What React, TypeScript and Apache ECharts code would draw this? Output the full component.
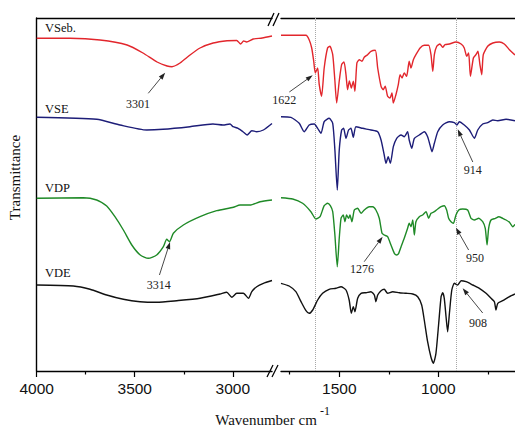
import React, { useEffect, useRef } from "react";
import * as echarts from "echarts";

type P = [number, number];

// axis ranges (wavenumber, cm-1) for the two segments of the broken axis
const leftRange: P = [2800, 4000];
const rightRange: P = [613, 1794];
const majorLeft = [4000, 3500, 3000];
const minorLeft = [3750, 3250];
const majorRight = [1500, 1000];
const minorRight = [1750, 1250, 750];
const guideLines = [1622, 908];
const yRange: P = [0, 353];

const seriesNames = ["VSeb.", "VSE", "VDP", "VDE"];
const seriesColors = ["#e2262c", "#1d1d78", "#1f8a27", "#111111"];

// transmittance (arbitrary, offset units)
const vsebLeft: P[] = [[4000, 332.7], [3830, 332.7], [3677, 331], [3539, 326], [3458, 318], [3386, 309], [3335, 305], [3310, 304.3], [3269, 308], [3218, 316], [3167, 323], [3100, 328], [3029, 330.3], [2980, 330.5], [2960, 327], [2945, 330], [2930, 329], [2896, 332], [2850, 333], [2800, 335]];
const vsebRight: P[] = [[1794, 335.7], [1668, 335.7], [1652, 331.3], [1639, 323], [1629, 310], [1621, 298], [1609, 303], [1601, 286.3], [1589, 274.7], [1576, 303], [1559, 323], [1547, 324.7], [1533, 316.3], [1523, 293], [1513, 268], [1500, 290], [1488, 306.3], [1476, 309], [1466, 296.3], [1458, 281.3], [1449, 290], [1439, 283], [1429, 289.7], [1421, 279.7], [1411, 308], [1399, 311.3], [1385, 309.7], [1374, 313.7], [1357, 316.3], [1340, 319.7], [1318, 320.7], [1306, 303], [1289, 284.7], [1278, 281.3], [1268, 284.7], [1256, 274.7], [1244, 273], [1234, 278], [1227, 268], [1214, 276.3], [1202, 286.3], [1193, 296.3], [1183, 293], [1172, 298], [1160, 294.7], [1147, 309.7], [1138, 303], [1126, 311.3], [1113, 316.3], [1092, 323], [1071, 325.7], [1049, 325.7], [1037, 316.3], [1028, 299.7], [1020, 316.3], [1008, 324.7], [992, 327], [978, 323.7], [966, 326.3], [944, 327], [911, 329], [885, 327], [869, 323], [857, 314.7], [847, 318], [838, 294.7], [823, 313], [810, 316.3], [800, 319.7], [790, 306.3], [781, 296.3], [773, 316.3], [751, 324.7], [725, 328], [692, 329], [667, 327], [641, 321.3], [624, 318], [613, 316]];

const vseLeft: P[] = [[4000, 253.7], [3694, 251.7], [3575, 246], [3439, 241], [3356, 241.7], [3218, 244.3], [3101, 247], [3050, 246], [3014, 247], [2999, 244.3], [2973, 242.7], [2948, 239.3], [2927, 236], [2903, 240.3], [2878, 239.3], [2844, 241], [2800, 247.5]];
const vseRight: P[] = [[1794, 254.3], [1744, 253.7], [1702, 247.7], [1677, 239.3], [1652, 246], [1626, 247], [1609, 242.7], [1592, 237.7], [1576, 249.3], [1551, 252.7], [1533, 247.7], [1522, 221], [1510, 181], [1500, 221], [1488, 241], [1478, 242.7], [1466, 232.7], [1453, 241], [1441, 242.7], [1429, 233.7], [1416, 244.3], [1382, 242.7], [1340, 241], [1306, 239.3], [1289, 231], [1273, 216], [1264, 207.7], [1253, 214.3], [1242, 207.7], [1227, 224.3], [1210, 232.7], [1188, 236], [1172, 234.3], [1155, 239.3], [1147, 231], [1134, 222.7], [1121, 232.7], [1096, 236], [1071, 239.3], [1054, 234.3], [1042, 226], [1032, 219.3], [1020, 227.7], [1003, 239.3], [978, 246], [944, 249.3], [919, 248.3], [906, 246], [894, 249.3], [869, 246], [843, 241], [818, 232.7], [801, 241], [776, 247], [751, 248.3], [725, 251], [700, 250.3], [658, 251.7], [613, 250.3]];

const vdpLeft: P[] = [[4000, 172.7], [3762, 173.3], [3694, 171], [3643, 165], [3601, 154.3], [3558, 141], [3515, 126], [3472, 116], [3431, 112.7], [3388, 116], [3354, 124.3], [3337, 131.7], [3323, 129.3], [3303, 137.7], [3252, 146], [3167, 154.3], [3082, 160.3], [2997, 163.7], [2963, 166], [2912, 166], [2861, 169.3], [2800, 171]];
const vdpRight: P[] = [[1794, 173.3], [1735, 172], [1685, 167.7], [1643, 159.3], [1618, 152], [1597, 154.3], [1576, 165.3], [1559, 167.7], [1545, 165.3], [1533, 159.3], [1522, 136], [1510, 104.3], [1500, 132.7], [1491, 152.7], [1480, 156], [1471, 149.3], [1463, 156], [1453, 152.7], [1446, 156], [1436, 149.3], [1424, 161], [1407, 162.7], [1390, 157.7], [1374, 161], [1349, 164.3], [1331, 164.3], [1315, 161], [1298, 152.7], [1284, 137.7], [1273, 136], [1256, 134.3], [1239, 126], [1222, 117.7], [1210, 116], [1200, 117.7], [1188, 124.3], [1172, 132.7], [1155, 142.7], [1147, 147.7], [1138, 144.3], [1129, 151], [1121, 136], [1113, 149.3], [1096, 154.3], [1079, 156], [1062, 159.3], [1049, 152.7], [1037, 157.7], [1020, 159.3], [1003, 162], [986, 164.3], [970, 165.3], [958, 161], [948, 152.7], [936, 149.3], [924, 147.7], [911, 156], [897, 161], [877, 162], [852, 161], [835, 152.7], [818, 151], [796, 152.7], [776, 149.3], [763, 142.7], [754, 126], [746, 142.7], [734, 151], [712, 152.7], [695, 154.3], [675, 152.7], [658, 151], [641, 148.7], [624, 144.3], [613, 146.7]];

const vdeLeft: P[] = [[4000, 86], [3813, 85], [3728, 81.7], [3643, 76], [3558, 71.7], [3473, 69.3], [3388, 68.7], [3286, 70.3], [3167, 72.7], [3065, 77], [3031, 78.7], [3005, 73.7], [2980, 77.7], [2946, 77.7], [2920, 72.7], [2903, 79.3], [2878, 84.3], [2844, 87.7], [2800, 90.5]];
const vdeRight: P[] = [[1794, 87.7], [1753, 85], [1719, 79.3], [1693, 69.3], [1668, 60.3], [1652, 57.7], [1634, 61], [1609, 71], [1584, 77.7], [1551, 81.7], [1517, 82.7], [1491, 84.3], [1466, 81], [1450, 71], [1439, 57.7], [1429, 64.3], [1421, 59.3], [1407, 72.7], [1390, 77.7], [1365, 78.3], [1340, 79.3], [1323, 76], [1315, 69.3], [1306, 76], [1289, 80.3], [1273, 81.7], [1256, 77.7], [1230, 79.3], [1197, 78.3], [1163, 77.7], [1129, 77], [1104, 74.3], [1084, 66], [1071, 51], [1054, 29.3], [1037, 13.7], [1025, 7.7], [1012, 17.7], [998, 47.7], [986, 74.3], [978, 78.3], [970, 72.7], [961, 54.3], [953, 39.3], [944, 57.7], [932, 81], [919, 87.7], [902, 86], [885, 90.3], [860, 89.3], [826, 86], [793, 82.7], [759, 77.7], [734, 72.7], [717, 69.3], [709, 61], [700, 67.7], [675, 70.3], [641, 74.3], [613, 77]];

const spectraLeft = [vsebLeft, vseLeft, vdpLeft, vdeLeft];
const spectraRight = [vsebRight, vseRight, vdpRight, vdeRight];

// name label anchor points (left segment)
const nameAnchors: P[] = [[3958, 343], [3958, 262], [3958, 182.7], [3958, 97.7]];

// peak annotations: segment index, text, label centre, arrow tail, arrow head
const annotations: { seg: number; text: string; label: P; tail: P; head: P }[] = [
  { seg: 0, text: "3301", label: [3483, 267], tail: [3431, 277.7], head: [3345, 298.3] },
  { seg: 1, text: "1622", label: [1777, 271], tail: [1752, 279], head: [1634, 295.7] },
  { seg: 1, text: "914", label: [826, 201], tail: [826, 209], head: [902, 241.7] },
  { seg: 0, text: "3314", label: [3378, 86], tail: [3374, 96], head: [3320, 129] },
  { seg: 1, text: "1276", label: [1385, 102], tail: [1374, 109.3], head: [1281, 134.3] },
  { seg: 1, text: "950", label: [815, 113.3], tail: [847, 121], head: [911, 143.3] },
  { seg: 1, text: "908", label: [800, 48.3], tail: [776, 58], head: [877, 82.7] },
];

const SERIF = "'Liberation Serif', 'Times New Roman', Times, serif";
const SANS = "'Liberation Sans', Arial, sans-serif";

export default function App() {
  const ref = useRef<HTMLDivElement>(null);

  useEffect(() => {
    if (!ref.current) return;
    const chart = echarts.init(ref.current, undefined, { renderer: "svg" });

    const gridTop = 18;
    const gridBottom = 57;
    const grids = [
      { left: 36.7, right: 243, top: gridTop, bottom: gridBottom },
      { left: 281, right: 0, top: gridTop, bottom: gridBottom },
    ];

    const ranges = [leftRange, rightRange];
    const majors = [majorLeft, majorRight];
    const minors = [minorLeft, minorRight];

    const xAxes: any[] = [];
    // 0,1: main bottom axes with major ticks and labels
    [0, 1].forEach((g) => {
      xAxes.push({
        type: "value",
        gridIndex: g,
        position: "bottom",
        min: ranges[g][0],
        max: ranges[g][1],
        inverse: true,
        axisLine: { show: true, onZero: false, lineStyle: { color: "#000", width: 1.4 } },
        axisTick: { show: true, inside: false, length: 6, customValues: majors[g], lineStyle: { color: "#000", width: 1.2 } },
        axisLabel: {
          show: true,
          customValues: majors[g],
          margin: 9,
          color: "#111",
          fontSize: 15.5,
          fontFamily: SANS,
          formatter: (v: number) => String(v),
        },
        splitLine: { show: false },
      });
    });
    // 2,3: minor ticks
    [0, 1].forEach((g) => {
      xAxes.push({
        type: "value",
        gridIndex: g,
        position: "bottom",
        min: ranges[g][0],
        max: ranges[g][1],
        inverse: true,
        axisLine: { show: false, onZero: false },
        axisTick: { show: true, inside: false, length: 3.5, customValues: minors[g], lineStyle: { color: "#000", width: 1.2 } },
        axisLabel: { show: false },
        splitLine: { show: false },
      });
    });
    // 4,5: top border lines
    [0, 1].forEach((g) => {
      xAxes.push({
        type: "value",
        gridIndex: g,
        position: "top",
        min: ranges[g][0],
        max: ranges[g][1],
        inverse: true,
        axisLine: { show: true, onZero: false, lineStyle: { color: "#000", width: 1.4 } },
        axisTick: { show: false },
        axisLabel: { show: false },
        splitLine: { show: false },
      });
    });

    const yAxes: any[] = [0, 1].map((g) => ({
      type: "value",
      gridIndex: g,
      min: yRange[0],
      max: yRange[1],
      axisLine: { show: g === 0, onZero: false, lineStyle: { color: "#000", width: 1.4 } },
      axisTick: { show: false },
      axisLabel: { show: false },
      splitLine: { show: false },
    }));

    const series: any[] = [];
    seriesNames.forEach((name, i) => {
      [spectraLeft[i], spectraRight[i]].forEach((data, g) => {
        const s: any = {
          name: name + (g === 0 ? " (4000-2800)" : " (1800-600)"),
          type: "line",
          xAxisIndex: g,
          yAxisIndex: g,
          data,
          showSymbol: false,
          smooth: 0.2,
          lineStyle: { color: seriesColors[i], width: 1.4 },
          itemStyle: { color: seriesColors[i] },
          z: 3,
        };
        if (i === 3 && g === 1) {
          s.markLine = {
            silent: true,
            symbol: ["none", "none"],
            label: { show: false },
            lineStyle: { type: "dotted", color: "#a8a8a8", width: 1 },
            data: guideLines.map((v) => ({ xAxis: v })),
            z: 1,
          };
        }
        series.push(s);
      });
    });

    chart.setOption({
      animation: false,
      backgroundColor: "#ffffff",
      grid: grids,
      xAxis: xAxes,
      yAxis: yAxes,
      series,
    });

    const toPx = (seg: number, p: P) =>
      chart.convertToPixel({ xAxisIndex: seg, yAxisIndex: seg }, p) as number[];

    const graphics: any[] = [];

    // break marks
    const slash = (x1: number, y1: number, x2: number, y2: number) => ({
      type: "line",
      shape: { x1, y1, x2, y2 },
      style: { stroke: "#000", lineWidth: 1.3 },
      z: 10,
    });
    graphics.push(slash(268, 26, 274, 13), slash(273, 26, 279, 13));
    graphics.push(slash(267, 377, 273, 365), slash(272, 377, 278, 365));

    // spectrum names
    seriesNames.forEach((name, i) => {
      const [x, y] = toPx(0, nameAnchors[i]);
      graphics.push({
        type: "text",
        x,
        y,
        style: { text: name, fill: "#111", font: `12.5px ${SERIF}`, align: "left", verticalAlign: "middle" },
        z: 10,
      });
    });

    // annotations with arrows
    annotations.forEach((a) => {
      const [lx, ly] = toPx(a.seg, a.label);
      const [tx, ty] = toPx(a.seg, a.tail);
      const [hx, hy] = toPx(a.seg, a.head);
      const dx = hx - tx;
      const dy = hy - ty;
      const len = Math.sqrt(dx * dx + dy * dy) || 1;
      const ux = dx / len;
      const uy = dy / len;
      const L = 7;
      const W = 2.4;
      const bx = hx - ux * L;
      const by = hy - uy * L;
      graphics.push({
        type: "line",
        shape: { x1: tx, y1: ty, x2: bx, y2: by },
        style: { stroke: "#333", lineWidth: 0.9 },
        z: 10,
      });
      graphics.push({
        type: "polygon",
        shape: { points: [[hx, hy], [bx - uy * W, by + ux * W], [bx + uy * W, by - ux * W]] },
        style: { fill: "#222" },
        z: 10,
      });
      graphics.push({
        type: "text",
        x: lx,
        y: ly,
        style: { text: a.text, fill: "#222", font: `12px ${SERIF}`, align: "center", verticalAlign: "middle" },
        z: 10,
      });
    });

    // axis titles
    graphics.push({
      type: "text",
      x: 266,
      y: 420,
      style: { text: "Wavenumber cm", fill: "#111", font: `15px ${SERIF}`, align: "center", verticalAlign: "middle" },
    });
    graphics.push({
      type: "text",
      x: 320,
      y: 411,
      style: { text: "-1", fill: "#111", font: `12px ${SERIF}`, align: "left", verticalAlign: "middle" },
    });
    graphics.push({
      type: "text",
      x: 15,
      y: 177.5,
      rotation: Math.PI / 2,
      style: { text: "Transmittance", fill: "#111", font: `15px ${SERIF}`, align: "center", verticalAlign: "middle" },
    });

    chart.setOption({ graphic: graphics });

    return () => chart.dispose();
  }, []);

  return (
    <div
      ref={ref}
      style={{ position: "fixed", left: 0, top: 0, width: 515, height: 428, background: "#fff" }}
    />
  );
}
